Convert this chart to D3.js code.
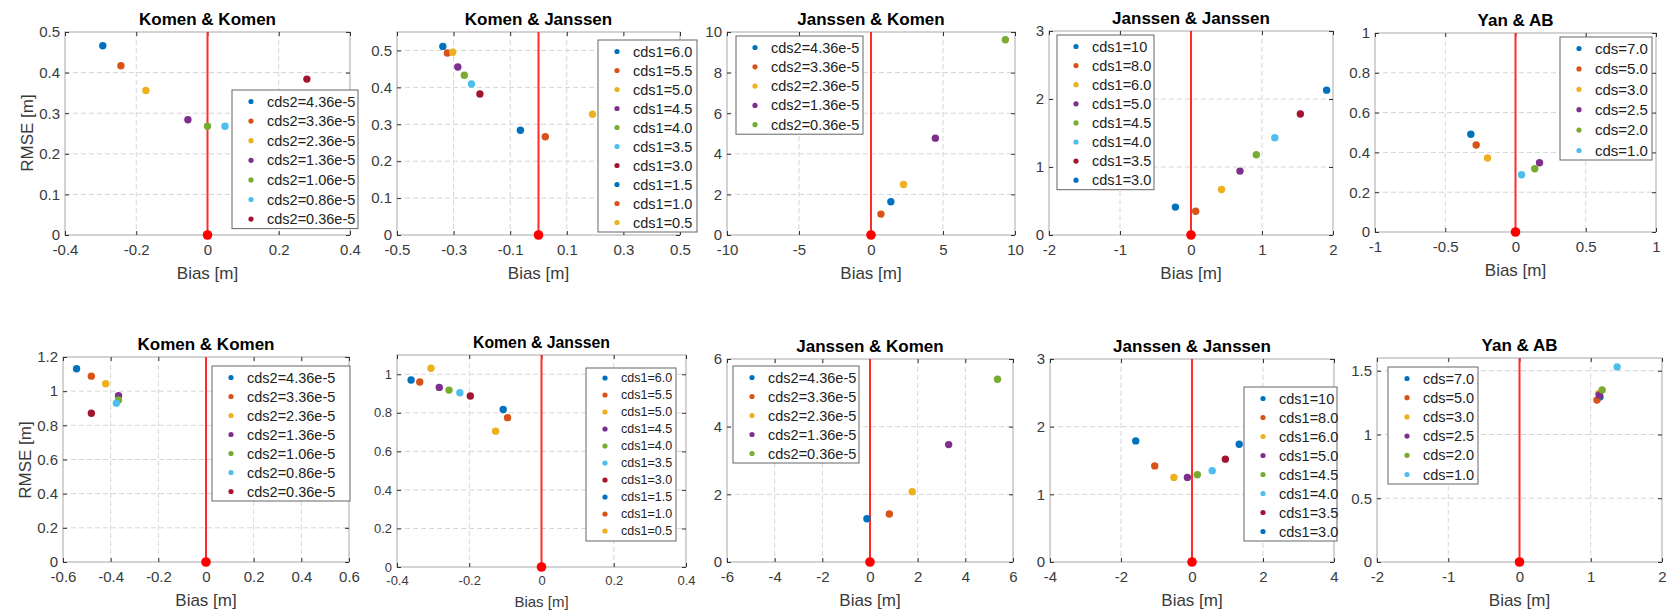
<!DOCTYPE html>
<html>
<head>
<meta charset="utf-8">
<script src="https://cdn.jsdelivr.net/npm/d3@7"></script>
<style>
  body { margin: 0; background: #fff; }
  svg { font-family: "Liberation Sans", Arial, Helvetica, sans-serif; }
</style>
</head>
<body>
<svg id="chart" width="1673" height="612"></svg>
<script>
// matlab default colour order
var colors = ["#0072BD", "#D95319", "#EDB120", "#7E2F8E", "#77AC30", "#4DBEEE", "#A2142F"];

// legend labels
var cds2Seven = ["cds2=4.36e-5", "cds2=3.36e-5", "cds2=2.36e-5", "cds2=1.36e-5", "cds2=1.06e-5", "cds2=0.86e-5", "cds2=0.36e-5"];
var cds2Five = ["cds2=4.36e-5", "cds2=3.36e-5", "cds2=2.36e-5", "cds2=1.36e-5", "cds2=0.36e-5"];
var cds1Ten = ["cds1=6.0", "cds1=5.5", "cds1=5.0", "cds1=4.5", "cds1=4.0", "cds1=3.5", "cds1=3.0", "cds1=1.5", "cds1=1.0", "cds1=0.5"];
var cds1Eight = ["cds1=10", "cds1=8.0", "cds1=6.0", "cds1=5.0", "cds1=4.5", "cds1=4.0", "cds1=3.5", "cds1=3.0"];
var cdsSix = ["cds=7.0", "cds=5.0", "cds=3.0", "cds=2.5", "cds=2.0", "cds=1.0"];

// top row: bias / rmse
var kkTopBias = [-0.294, -0.243, -0.173, -0.055, 0.0, 0.049, 0.279];
var kkTopRmse = [0.466, 0.417, 0.356, 0.284, 0.268, 0.268, 0.384];
var kjTopBias = [-0.338, -0.322, -0.303, -0.285, -0.262, -0.237, -0.207, -0.064, 0.024, 0.191];
var kjTopRmse = [0.511, 0.493, 0.495, 0.455, 0.433, 0.409, 0.382, 0.284, 0.266, 0.327];
var jkTopBias = [1.38, 0.69, 2.26, 4.47, 9.33];
var jkTopRmse = [1.64, 1.03, 2.49, 4.77, 9.62];
var jjTopBias = [-0.22, 0.066, 0.43, 0.69, 0.92, 1.18, 1.54, 1.91];
var jjTopRmse = [0.41, 0.35, 0.67, 0.94, 1.18, 1.43, 1.78, 2.13];
var yanTopBias = [-0.318, -0.28, -0.199, 0.171, 0.137, 0.043];
var yanTopRmse = [0.491, 0.437, 0.372, 0.348, 0.318, 0.288];

// bottom row
var kkBotBias = [-0.543, -0.481, -0.421, -0.367, -0.367, -0.376, -0.481];
var kkBotRmse = [1.131, 1.088, 1.043, 0.973, 0.949, 0.930, 0.871];
var kjBotBias = [-0.361, -0.337, -0.306, -0.283, -0.256, -0.226, -0.197, -0.106, -0.094, -0.127];
var kjBotRmse = [0.970, 0.960, 1.031, 0.932, 0.918, 0.904, 0.887, 0.817, 0.775, 0.705];
var jkBotBias = [-0.13, 0.81, 1.77, 3.30, 5.35];
var jkBotRmse = [1.28, 1.42, 2.08, 3.47, 5.40];
var jjBotBias = [-1.585, -1.05, -0.51, -0.13, 0.15, 0.57, 0.94, 1.33];
var jjBotRmse = [1.79, 1.42, 1.25, 1.25, 1.29, 1.35, 1.52, 1.74];
var yanBotBias = [1.13, 1.087, 1.11, 1.12, 1.16, 1.37];
var yanBotRmse = [1.295, 1.27, 1.32, 1.31, 1.35, 1.53];

// axis limits and ticks
var xTicksP1 = [-0.4, -0.2, 0, 0.2, 0.4], yTicksP1 = [0, 0.1, 0.2, 0.3, 0.4, 0.5];
var xTicksP2 = [-0.5, -0.3, -0.1, 0.1, 0.3, 0.5], yTicksP2 = [0, 0.1, 0.2, 0.3, 0.4, 0.5];
var xTicksP3 = [-10, -5, 0, 5, 10], yTicksP3 = [0, 2, 4, 6, 8, 10];
var xTicksP4 = [-2, -1, 0, 1, 2], yTicksP4 = [0, 1, 2, 3];
var xTicksP5 = [-1, -0.5, 0, 0.5, 1], yTicksP5 = [0, 0.2, 0.4, 0.6, 0.8, 1];
var xTicksP6 = [-0.6, -0.4, -0.2, 0, 0.2, 0.4, 0.6], yTicksP6 = [0, 0.2, 0.4, 0.6, 0.8, 1, 1.2];
var xTicksP7 = [-0.4, -0.2, 0, 0.2, 0.4], yTicksP7 = [0, 0.2, 0.4, 0.6, 0.8, 1];
var xTicksP8 = [-6, -4, -2, 0, 2, 4, 6], yTicksP8 = [0, 2, 4, 6];
var xTicksP9 = [-4, -2, 0, 2, 4], yTicksP9 = [0, 1, 2, 3];
var xTicksP10 = [-2, -1, 0, 1, 2], yTicksP10 = [0, 0.5, 1, 1.5];

var panels = [
  {title: "Komen & Komen", bias: kkTopBias, rmse: kkTopRmse, labels: cds2Seven, xd: [-0.4, 0.4], yd: [0, 0.5], xt: xTicksP1, yt: yTicksP1,
   box: [65, 32, 350, 235], leg: [232, 90, 126], step: 19.6, ylab: [27, 133]},
  {title: "Komen & Janssen", bias: kjTopBias, rmse: kjTopRmse, labels: cds1Ten, xd: [-0.5, 0.5], yd: [0, 0.55], xt: xTicksP2, yt: yTicksP2,
   box: [397, 32, 680, 235], leg: [598, 40, 99], step: 19},
  {title: "Janssen & Komen", bias: jkTopBias, rmse: jkTopRmse, labels: cds2Five, xd: [-10, 10], yd: [0, 10], xt: xTicksP3, yt: yTicksP3,
   box: [727, 32, 1015, 235], leg: [736, 36, 127], step: 19.3},
  {title: "Janssen & Janssen", bias: jjTopBias, rmse: jjTopRmse, labels: cds1Eight, xd: [-2, 2], yd: [0, 3], xt: xTicksP4, yt: yTicksP4,
   box: [1049, 31, 1333, 235], leg: [1057, 35, 97], step: 19.1},
  {title: "Yan & AB", bias: yanTopBias, rmse: yanTopRmse, labels: cdsSix, xd: [-1, 1], yd: [0, 1], xt: xTicksP5, yt: yTicksP5,
   box: [1375, 33, 1656, 232], leg: [1560, 37, 92], step: 20.4, legFont: 15},
  {title: "Komen & Komen", bias: kkBotBias, rmse: kkBotRmse, labels: cds2Seven, xd: [-0.6, 0.6], yd: [0, 1.2], xt: xTicksP6, yt: yTicksP6,
   box: [63, 357, 349, 562], leg: [212, 366, 138], step: 19, ylab: [25, 460]},
  {title: "Komen & Janssen", bias: kjBotBias, rmse: kjBotRmse, labels: cds1Ten, xd: [-0.4, 0.4], yd: [0, 1.1], xt: xTicksP7, yt: yTicksP7,
   box: [397, 355, 686, 567], leg: [586, 368, 90], step: 17, small: true},
  {title: "Janssen & Komen", bias: jkBotBias, rmse: jkBotRmse, labels: cds2Five, xd: [-6, 6], yd: [0, 6], xt: xTicksP8, yt: yTicksP8,
   box: [727, 359, 1013, 562], leg: [733, 366, 126], step: 19},
  {title: "Janssen & Janssen", bias: jjBotBias, rmse: jjBotRmse, labels: cds1Eight, xd: [-4, 4], yd: [0, 3], xt: xTicksP9, yt: yTicksP9,
   box: [1050, 359, 1334, 562], leg: [1244, 387, 93], step: 19},
  {title: "Yan & AB", bias: yanBotBias, rmse: yanBotRmse, labels: cdsSix, xd: [-2, 2], yd: [0, 1.6], xt: xTicksP10, yt: yTicksP10,
   box: [1377, 358, 1662, 562], leg: [1388, 367, 90], step: 19.2}
];

var svg = d3.select("#chart");
var fmt = function(d) { return String(Math.round(d * 1000) / 1000); };

panels.forEach(function(p) {
  var x0 = p.box[0], y0 = p.box[1], x1 = p.box[2], y1 = p.box[3];
  var tickFont = p.small ? 13 : 15;
  var titleFont = p.small ? 15.8 : 17;
  var labFont = p.small ? 15 : 17;
  var legFont = p.small ? 12.5 : (p.legFont || 14.5);

  var x = d3.scaleLinear().domain(p.xd).range([x0, x1]);
  var y = d3.scaleLinear().domain(p.yd).range([y1, y0]);

  var g = svg.append("g");

  // dashed grid
  g.selectAll(".gx").data(p.xt.filter(function(d) { return d > p.xd[0] && d < p.xd[1]; }))
    .enter().append("line")
    .attr("x1", function(d) { return x(d); }).attr("x2", function(d) { return x(d); })
    .attr("y1", y0).attr("y2", y1)
    .attr("stroke", "#d6d6d6").attr("stroke-dasharray", "5,3");
  g.selectAll(".gy").data(p.yt.filter(function(d) { return d > p.yd[0] && d < p.yd[1]; }))
    .enter().append("line")
    .attr("y1", function(d) { return y(d); }).attr("y2", function(d) { return y(d); })
    .attr("x1", x0).attr("x2", x1)
    .attr("stroke", "#d6d6d6").attr("stroke-dasharray", "5,3");

  g.append("rect")
    .attr("x", x0).attr("y", y0).attr("width", x1 - x0).attr("height", y1 - y0)
    .attr("fill", "none").attr("stroke", "#a8a8a8");

  // axes, ticks pointing inward
  var xa = g.append("g").attr("transform", "translate(0," + y1 + ")")
    .call(d3.axisBottom(x).tickValues(p.xt).tickFormat(fmt).tickSizeInner(-4).tickSizeOuter(0).tickPadding(9));
  var ya = g.append("g").attr("transform", "translate(" + x0 + ",0)")
    .call(d3.axisLeft(y).tickValues(p.yt).tickFormat(fmt).tickSizeInner(-4).tickSizeOuter(0).tickPadding(5));
  var xt = g.append("g").attr("transform", "translate(0," + y0 + ")")
    .call(d3.axisTop(x).tickValues(p.xt).tickFormat("").tickSizeInner(-4).tickSizeOuter(0));
  var yr = g.append("g").attr("transform", "translate(" + x1 + ",0)")
    .call(d3.axisRight(y).tickValues(p.yt).tickFormat("").tickSizeInner(-4).tickSizeOuter(0));
  [xa, ya, xt, yr].forEach(function(a) {
    a.select(".domain").remove();
    a.selectAll(".tick line").attr("stroke", "#333");
    a.selectAll("text").attr("font-size", tickFont).attr("fill", "#3a3a3a")
      .attr("font-family", "\"Liberation Sans\", Arial, sans-serif");
  });

  // zero-bias reference line and origin
  g.append("line")
    .attr("x1", x(0)).attr("x2", x(0)).attr("y1", y(p.yd[0])).attr("y2", y(p.yd[1]))
    .attr("stroke", "#ff2b2b").attr("stroke-width", 2);

  // scatter
  g.selectAll(".pt").data(p.bias).enter().append("circle")
    .attr("cx", function(d) { return x(d); })
    .attr("cy", function(d, i) { return y(p.rmse[i]); })
    .attr("r", 3.7)
    .attr("fill", function(d, i) { return colors[i % colors.length]; });

  g.append("circle").attr("cx", x(0)).attr("cy", y(0)).attr("r", 4.8).attr("fill", "#ff0000");

  // title and labels
  g.append("text").attr("x", (x0 + x1) / 2).attr("y", y0 - 13).attr("dy", "0.35em")
    .attr("text-anchor", "middle").attr("font-weight", "bold").attr("font-size", titleFont)
    .attr("fill", "#000").text(p.title);
  g.append("text").attr("x", (x0 + x1) / 2).attr("y", y1 + (p.small ? 35 : 38)).attr("dy", "0.35em")
    .attr("text-anchor", "middle").attr("font-size", labFont).attr("fill", "#3a3a3a").text("Bias [m]");
  if (p.ylab) {
    g.append("text").attr("transform", "translate(" + p.ylab[0] + "," + p.ylab[1] + ") rotate(-90)")
      .attr("dy", "0.35em").attr("text-anchor", "middle").attr("font-size", 17)
      .attr("fill", "#3a3a3a").text("RMSE [m]");
  }

  // legend
  var lx = p.leg[0], ly = p.leg[1], lw = p.leg[2];
  var lh = (p.labels.length - 1) * p.step + (p.small ? 20 : 21);
  var top = ly + (p.small ? 10 : 11.5);
  var lg = g.append("g");
  lg.append("rect").attr("x", lx).attr("y", ly).attr("width", lw).attr("height", lh)
    .attr("fill", "#fff").attr("stroke", "#666");
  var item = lg.selectAll(".item").data(p.labels).enter().append("g")
    .attr("transform", function(d, i) { return "translate(" + lx + "," + (top + i * p.step) + ")"; });
  item.append("circle").attr("cx", 19).attr("cy", 0).attr("r", 2.6)
    .attr("fill", function(d, i) { return colors[i % colors.length]; });
  item.append("text").attr("x", 35).attr("dy", "0.35em").attr("font-size", legFont)
    .attr("fill", "#222").text(function(d) { return d; });
});
</script>
</body>
</html>
